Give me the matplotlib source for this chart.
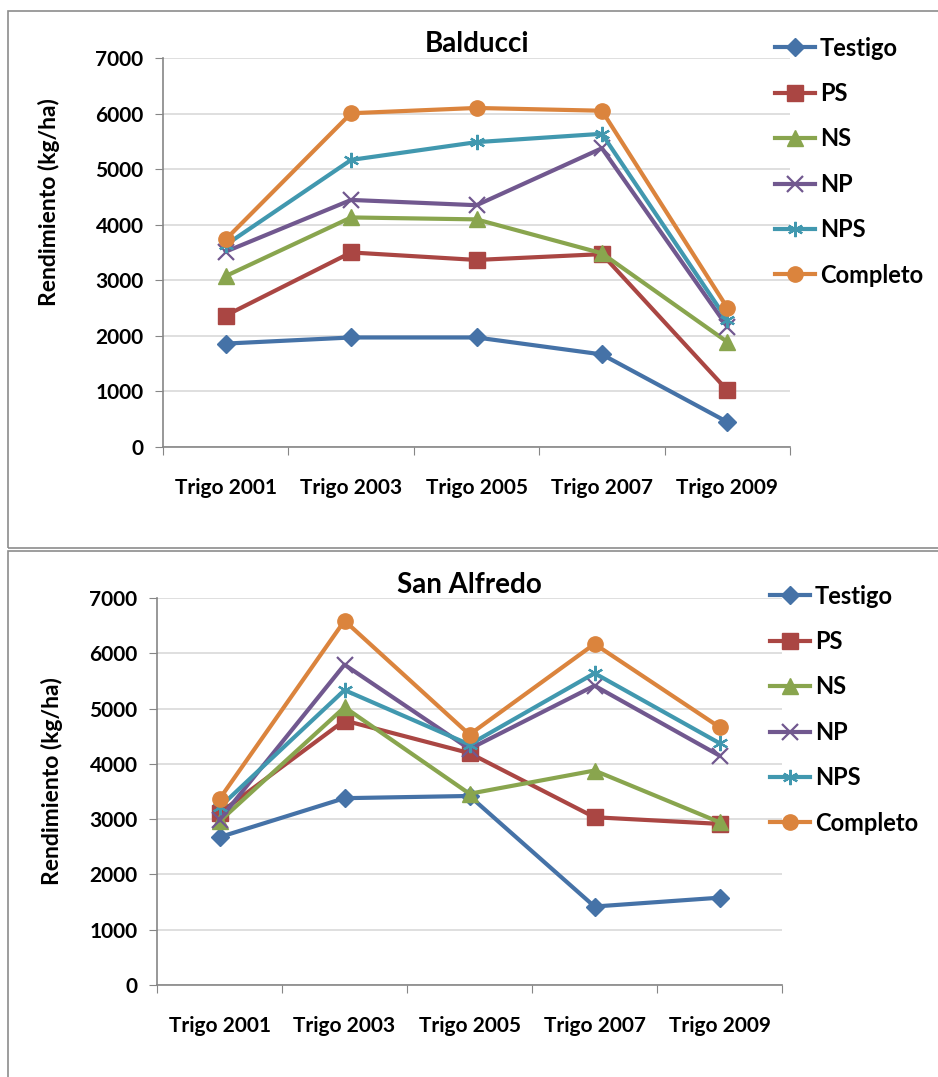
import matplotlib
matplotlib.use('Agg')
import matplotlib.pyplot as plt
from matplotlib.patches import Rectangle
import numpy as np

plt.rcParams['font.family'] = ['Lato', 'DejaVu Sans']
plt.rcParams['font.weight'] = 'bold'

campaigns = ['Trigo 2001', 'Trigo 2003', 'Trigo 2005', 'Trigo 2007', 'Trigo 2009']
series = ['Testigo', 'PS', 'NS', 'NP', 'NPS', 'Completo']

# Balducci (kg/ha)
bal_testigo = [1860, 1970, 1970, 1665, 450]
bal_ps = [2365, 3500, 3365, 3470, 1020]
bal_ns = [3075, 4130, 4095, 3485, 1890]
bal_np = [3515, 4445, 4350, 5375, 2165]
bal_nps = [3635, 5165, 5485, 5635, 2280]
bal_completo = [3735, 6005, 6100, 6050, 2505]

# San Alfredo (kg/ha)
sa_testigo = [2675, 3380, 3420, 1420, 1580]
sa_ps = [3110, 4785, 4195, 3035, 2915]
sa_ns = [2960, 5025, 3460, 3880, 2945]
sa_np = [2990, 5795, 4270, 5415, 4150]
sa_nps = [3215, 5335, 4350, 5640, 4375]
sa_completo = [3365, 6590, 4530, 6170, 4665]

colors = ['#4572A7', '#AA4643', '#89A54E', '#71588F', '#4198AF', '#DB843D']
markers = ['D', 's', '^', 'x', (6, 2, 0), 'o']
msizes = [9, 11, 11, 11, 11, 11]

# title, data, axes rect, ylabel coords, legend anchor
panels = [
    ('Balducci', [bal_testigo, bal_ps, bal_ns, bal_np, bal_nps, bal_completo],
     [0.1738, 0.5850, 0.6684, 0.3612], (-0.164, 0.63), (0.976, 1.055)),
    ('San Alfredo', [sa_testigo, sa_ps, sa_ns, sa_np, sa_nps, sa_completo],
     [0.1674, 0.0854, 0.6663, 0.3593], (-0.150, 0.527), (0.981, 1.035)),
]

fig = plt.figure(figsize=(9.38, 10.77), dpi=100)

# chart frames
fig.patches.append(Rectangle((8 / 938, 1 - 548 / 1077), 1.0, 537 / 1077,
                             transform=fig.transFigure, fill=False,
                             edgecolor='#8c8c8c', lw=1.2))
fig.patches.append(Rectangle((8 / 938, 1 - 1080 / 1077), 1.0, 529 / 1077,
                             transform=fig.transFigure, fill=False,
                             edgecolor='#8c8c8c', lw=1.2))

x = np.arange(len(campaigns))
for title, data, rect, ylc, anchor in panels:
    ax = fig.add_axes(rect)
    for vals, name, c, m, ms in zip(data, series, colors, markers, msizes):
        mew = 1.6 if m in ('x', (6, 2, 0)) else 1
        ax.plot(x, vals, color=c, lw=3, marker=m, ms=ms, mew=mew,
                mec=c, mfc=c, label=name)
    ax.set_xlim(-0.5, 4.5)
    ax.set_ylim(0, 7000)
    ax.set_yticks(np.arange(0, 7001, 1000))
    ax.set_xticks(np.arange(-0.5, 4.6, 1))
    ax.set_xticklabels([])
    ax.set_xticks(x, minor=True)
    ax.set_xticklabels(campaigns, minor=True, fontsize=15, fontweight='bold')
    ax.tick_params(axis='x', which='minor', length=0, pad=22)
    ax.tick_params(axis='x', which='major', length=6, color='#868686', direction='out')
    ax.tick_params(axis='y', length=6, color='#868686', labelsize=15, pad=8)
    for lbl in ax.get_yticklabels():
        lbl.set_fontweight('bold')
    ax.grid(axis='y', color='#d9d9d9', lw=1.2)
    ax.set_axisbelow(True)
    for s in ['top', 'right']:
        ax.spines[s].set_visible(False)
    for s in ['left', 'bottom']:
        ax.spines[s].set_color('#868686')
        ax.spines[s].set_linewidth(1.2)
    ax.set_title(title, fontsize=20, fontweight='bold', pad=4)
    ax.set_ylabel('Rendimiento (kg/ha)', fontsize=16.5, fontweight='bold')
    ax.yaxis.set_label_coords(*ylc)
    leg = ax.legend(loc='upper left', bbox_to_anchor=anchor, frameon=False,
                    fontsize=17, handlelength=1.7, labelspacing=0.95,
                    handletextpad=0.2, borderaxespad=0, borderpad=0)
    for t in leg.get_texts():
        t.set_fontweight('bold')

fig.savefig('out.png', dpi=100)
